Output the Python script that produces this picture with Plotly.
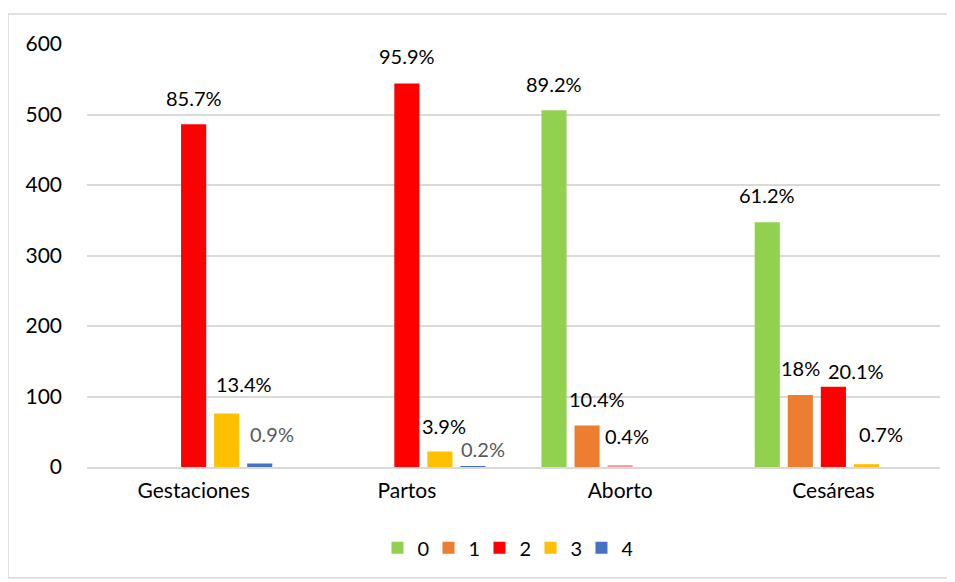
import plotly.graph_objects as go

categories = ["Gestaciones", "Partos", "Aborto", "Cesáreas"]
series_names = ["0", "1", "2", "3", "4"]
s0 = [None, None, 506, 347]
s1 = [None, None, 59, 102]
s2 = [486, 544, 2, 114]
s3 = [76, 22, None, 4]
s4 = [5, 1, None, None]
l0 = [None, None, "89.2%", "61.2%"]
l1 = [None, None, "10.4%", "18%"]
l2 = ["85.7%", "95.9%", "0.4%", "20.1%"]
l3 = ["13.4%", "3.9%", None, "0.7%"]
l4 = ["0.9%", "0.2%", None, None]
y_ticks = [0, 100, 200, 300, 400, 500, 600]

values = [s0, s1, s2, s3, s4]
labels = [l0, l1, l2, l3, l4]
colors = ["#92D050", "#ED7D31", "#FF0000", "#FFC000", "#4472C4"]
point_colors = {2: ["#FF0000", "#FF0000", "#FF9C9C", "#FF0000"]}
# label offsets (xshift extra, yshift) per series/category
label_style = {
    (0, 2): (0, 12), (0, 3): (0, 13),
    (1, 2): (10, 12), (1, 3): (0, 13),
    (2, 0): (0, 12), (2, 1): (0, 13), (2, 2): (7, 16), (2, 3): (23, 2),
    (3, 0): (17, 15), (3, 1): (4, 11), (3, 3): (15, 16),
    (4, 0): (12, 15), (4, 1): (10, 3),
}
gray_labels = {(4, 0), (4, 1)}

FONT = "Lato"
fig = go.Figure()
for i, (name, vals) in enumerate(zip(series_names, values)):
    fig.add_trace(go.Bar(
        name=name, x=categories, y=vals,
        marker=dict(color=point_colors.get(i, colors[i]), line=dict(width=0)),
        hoverinfo="skip",
    ))

step = 33
annotations = []
for i, (vals, labs) in enumerate(zip(values, labels)):
    for j, (v, t) in enumerate(zip(vals, labs)):
        if v is None or t is None:
            continue
        dx, dy = label_style.get((i, j), (0, 12))
        annotations.append(dict(
            x=categories[j], y=v, xref="x", yref="y", text=t, showarrow=False,
            xanchor="center", yanchor="bottom",
            xshift=(i - 2) * step + dx, yshift=dy,
            font=dict(family=FONT, size=20,
                      color="#595959" if (i, j) in gray_labels else "#000000"),
        ))

fig.update_layout(
    width=947, height=574,
    margin=dict(l=79, r=15, t=36, b=115),
    paper_bgcolor="white", plot_bgcolor="white",
    barmode="group", bargap=0.225, bargroupgap=0.24,
    font=dict(family=FONT, size=21, color="#000000"),
    showlegend=True,
    legend=dict(orientation="h", x=0.49, xanchor="center", y=-0.145, yanchor="top",
                font=dict(family=FONT, size=20), traceorder="normal",
                bgcolor="rgba(0,0,0,0)", itemwidth=30, tracegroupgap=0,
                entrywidth=6),
    annotations=annotations,
    shapes=[dict(type="rect", xref="paper", yref="paper",
                 x0=-0.0926, x1=1.0094, y0=-0.262, y1=1.0709,
                 line=dict(color="#D9D9D9", width=1.5))],
    xaxis=dict(showline=True, linecolor="#D9D9D9", linewidth=1.5, ticks="",
               tickfont=dict(family=FONT, size=21), showgrid=False,
               automargin=False, ticklabelstandoff=4),
    yaxis=dict(range=[0, 600], tickvals=y_ticks, showgrid=True, gridcolor="#D9D9D9",
               gridwidth=1.5, zeroline=False, showline=False, ticks="",
               tickfont=dict(family=FONT, size=21), ticklabelstandoff=24,
               automargin=False),
)

fig.write_html("out.html")
